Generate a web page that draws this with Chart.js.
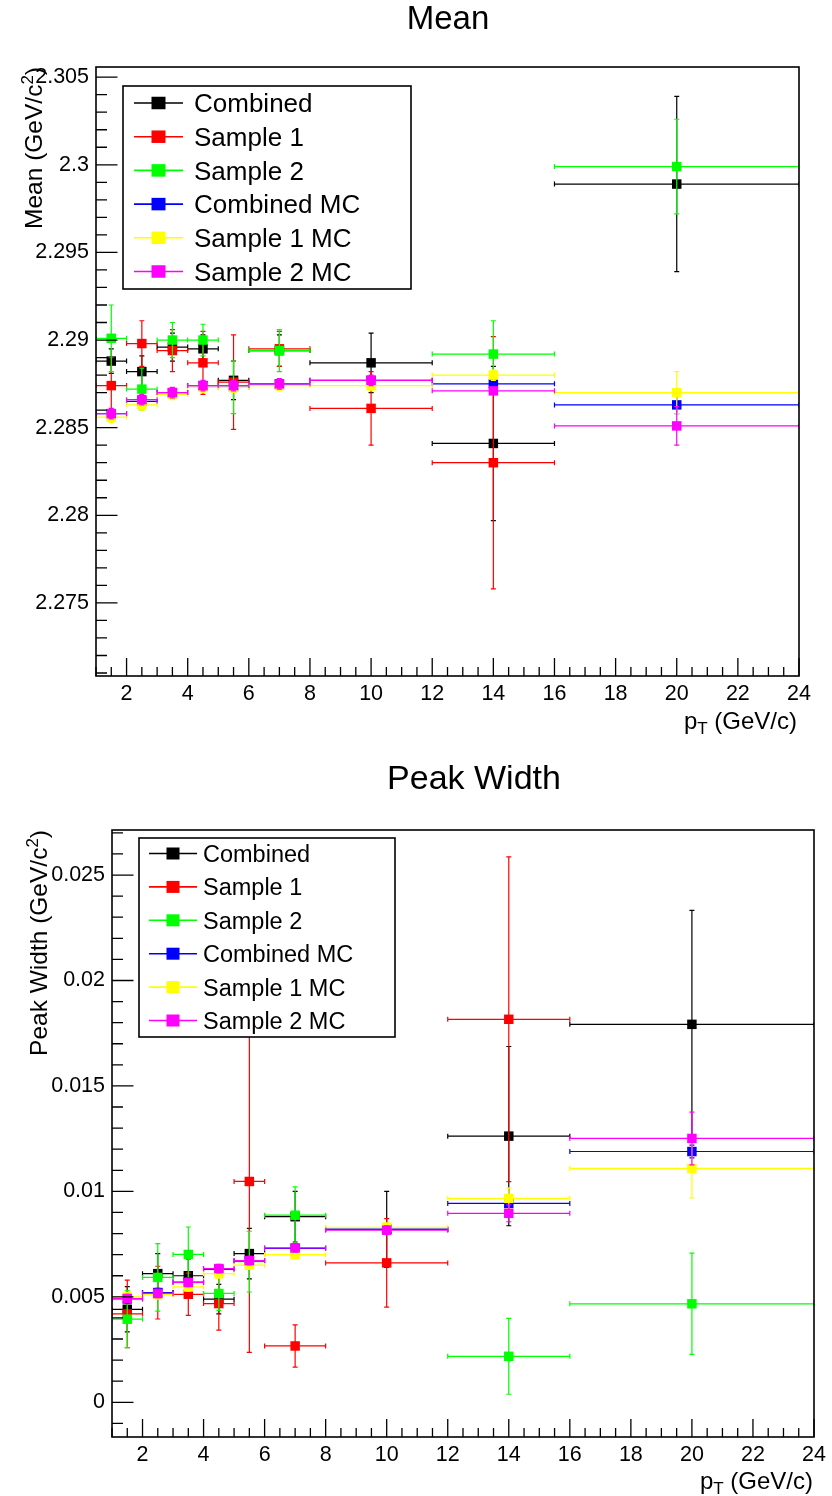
<!DOCTYPE html>
<html><head><meta charset="utf-8">
<script src="https://cdn.jsdelivr.net/npm/chart.js@4.4.0/dist/chart.umd.min.js"></script>
<style>
html,body{margin:0;padding:0;background:#fff;}
#wrap{position:relative;width:832px;height:1496px;background:#fff;}
.pane{position:absolute;left:0;width:832px;height:748px;}
</style></head><body>
<div id="wrap">
<div class="pane" style="top:0"><canvas id="c1" width="832" height="748"></canvas></div>
<div class="pane" style="top:748px"><canvas id="c2" width="832" height="748"></canvas></div>
</div>
<script>
// ---------- data ----------
const binCenters = [1.5, 2.5, 3.5, 4.5, 5.5, 7, 10, 14, 20];
const binLow     = [1, 2, 3, 4, 5, 6, 8, 12, 16];
const binHigh    = [2, 3, 4, 5, 6, 8, 12, 16, 24];
const seriesNames  = ['Combined', 'Sample 1', 'Sample 2', 'Combined MC', 'Sample 1 MC', 'Sample 2 MC'];
const seriesColors = ['#000000', '#ff0000', '#00ff00', '#0000ff', '#ffff00', '#ff00ff'];
const xTicks = [2, 4, 6, 8, 10, 12, 14, 16, 18, 20, 22, 24];
const meanYTicks  = [2.275, 2.28, 2.285, 2.29, 2.295, 2.3, 2.305];
const widthYTicks = [0, 0.005, 0.01, 0.015, 0.02, 0.025];

// Mean (GeV/c^2)
const meanCombined      = [2.2888, 2.2882, 2.2896, 2.2895, 2.2877, 2.2894, 2.2887, 2.2841, 2.2989];
const meanCombinedErr   = [0.0007, 0.0009, 0.0008, 0.0008, 0.0011, 0.0009, 0.0017, 0.0044, 0.0050];
const meanSample1       = [2.2874, 2.2898, 2.2894, 2.2887, 2.2876, 2.2895, 2.2861, 2.2830, null];
const meanSample1Err    = [0.0016, 0.0013, 0.0012, 0.0018, 0.0027, 0.0010, 0.0021, 0.0072, null];
const meanSample2       = [2.2901, 2.2872, 2.2900, 2.2900, 2.2873, 2.2894, null, 2.2892, 2.2999];
const meanSample2Err    = [0.0019, 0.0012, 0.0010, 0.0009, 0.0015, 0.0012, null, 0.0019, 0.0027];
const meanCombinedMC    = [2.2858, 2.2865, 2.2870, 2.2874, 2.2874, 2.2875, 2.2877, 2.2875, 2.2863];
const meanCombinedMCErr = [0.0002, 0.0002, 0.0002, 0.0002, 0.0002, 0.0002, 0.0002, 0.0002, 0.0005];
const meanSample1MC     = [2.2856, 2.2863, 2.2869, 2.2873, 2.2873, 2.2874, 2.2874, 2.2880, 2.2870];
const meanSample1MCErr  = [0.0003, 0.0003, 0.0003, 0.0003, 0.0003, 0.0003, 0.0003, 0.0003, 0.0012];
const meanSample2MC     = [2.2858, 2.2866, 2.2870, 2.2874, 2.2874, 2.2875, 2.2877, 2.2871, 2.2851];
const meanSample2MCErr  = [0.0003, 0.0003, 0.0003, 0.0003, 0.0003, 0.0003, 0.0003, 0.0002, 0.0011];

// Peak width (GeV/c^2)
const widthCombined      = [0.00441, 0.0061, 0.0060, 0.00489, 0.00705, 0.0088, 0.0082, 0.01262, 0.01792];
const widthCombinedErr   = [0.00107, 0.00095, 0.0008, 0.0007, 0.0012, 0.0012, 0.0018, 0.00425, 0.0054];
const widthSample1       = [0.00419, 0.0052, 0.00512, 0.00468, 0.01047, 0.00267, 0.00661, 0.01816, null];
const widthSample1Err    = [0.0016, 0.00125, 0.0010, 0.00126, 0.0081, 0.0010, 0.0021, 0.0077, null];
const widthSample2       = [0.00394, 0.00592, 0.00701, 0.00516, 0.00667, 0.00887, null, 0.00218, 0.00467];
const widthSample2Err    = [0.00135, 0.0016, 0.0013, 0.0008, 0.00144, 0.00134, null, 0.0018, 0.0024];
const widthCombinedMC    = [0.0049, 0.0052, 0.0057, 0.0063, 0.0067, 0.0073, 0.0082, 0.00943, 0.01189];
const widthCombinedMCErr = [0.0002, 0.0002, 0.0002, 0.0002, 0.0002, 0.0002, 0.0002, 0.0003, 0.0003];
const widthSample1MC     = [0.0050, 0.0051, 0.00547, 0.0061, 0.0065, 0.0070, 0.0083, 0.00967, 0.01109];
const widthSample1MCErr  = [0.0002, 0.0002, 0.0002, 0.0002, 0.0002, 0.0002, 0.0002, 0.0005, 0.0014];
const widthSample2MC     = [0.00492, 0.00516, 0.00568, 0.00634, 0.00672, 0.00732, 0.00816, 0.00896, 0.01251];
const widthSample2MCErr  = [0.0002, 0.0002, 0.0002, 0.0002, 0.0002, 0.0002, 0.0002, 0.0004, 0.00125];

// ---------- rendering ----------
const FONT = '"Liberation Sans", Arial, Helvetica, sans-serif';

function buildDatasets(vals, errs) {
  return seriesNames.map((name, s) => ({
    label: name,
    data: binCenters.map((x, i) => ({x: x, y: vals[s][i], xl: binLow[i], xh: binHigh[i], ey: errs[s][i]}))
                    .filter(d => d.y !== null),
    showLine: false,
    pointStyle: 'rect',
    pointRadius: 6.7,
    pointHoverRadius: 6.7,
    backgroundColor: seriesColors[s],
    borderColor: seriesColors[s],
    borderWidth: 0,
    order: seriesNames.length - s
  }));
}

const errorBars = {
  id: 'errorBars',
  beforeDatasetDraw(chart, args) {
    const ds = chart.data.datasets[args.index];
    const xs = chart.scales.x, ys = chart.scales.y, ctx = chart.ctx, a = chart.chartArea;
    const cap = 2.5;
    ctx.save();
    ctx.beginPath(); ctx.rect(a.left, a.top, a.right - a.left, a.bottom - a.top); ctx.clip();
    ctx.strokeStyle = ds.borderColor; ctx.lineWidth = 1.2;
    ctx.beginPath();
    ds.data.forEach(d => {
      const px = xs.getPixelForValue(d.x), py = ys.getPixelForValue(d.y);
      const x1 = xs.getPixelForValue(d.xl), x2 = xs.getPixelForValue(d.xh);
      const y1 = ys.getPixelForValue(d.y + d.ey), y2 = ys.getPixelForValue(d.y - d.ey);
      ctx.moveTo(x1, py); ctx.lineTo(x2, py);
      ctx.moveTo(x1, py - cap); ctx.lineTo(x1, py + cap);
      ctx.moveTo(x2, py - cap); ctx.lineTo(x2, py + cap);
      ctx.moveTo(px, y1); ctx.lineTo(px, y2);
      ctx.moveTo(px - cap, y1); ctx.lineTo(px + cap, y1);
      ctx.moveTo(px - cap, y2); ctx.lineTo(px + cap, y2);
    });
    ctx.stroke();
    ctx.restore();
  }
};

function drawRich(ctx, parts, x, y, align, rot) {
  ctx.save();
  ctx.translate(x, y);
  if (rot) ctx.rotate(rot);
  let w = 0;
  parts.forEach(p => { ctx.font = p.size + 'px ' + FONT; p.w = ctx.measureText(p.t).width; w += p.w; });
  let cx = align === 'right' ? -w : (align === 'center' ? -w / 2 : 0);
  ctx.textAlign = 'left'; ctx.textBaseline = 'alphabetic'; ctx.fillStyle = '#000';
  parts.forEach(p => { ctx.font = p.size + 'px ' + FONT; ctx.fillText(p.t, cx, p.dy || 0); cx += p.w; });
  ctx.restore();
}

function rootFrame(cfg) {
  return {
    id: 'rootFrame',
    afterDatasetsDraw(chart) {
      const ctx = chart.ctx, a = chart.chartArea, xs = chart.scales.x, ys = chart.scales.y;
      ctx.save();
      ctx.strokeStyle = '#000';
      ctx.lineWidth = 1.3;
      ctx.beginPath();
      const ry = Math.round(cfg.yMajor / cfg.yMinor);
      for (let k = Math.ceil(ys.min / cfg.yMinor - 1e-6); k * cfg.yMinor <= ys.max + 1e-9; k++) {
        const py = ys.getPixelForValue(k * cfg.yMinor);
        const len = (k % ry === 0) ? 21.5 : 11;
        ctx.moveTo(a.left, py); ctx.lineTo(a.left + len, py);
      }
      const rx = Math.round(cfg.xMajor / cfg.xMinor);
      for (let k = Math.ceil(xs.min / cfg.xMinor - 1e-6); k * cfg.xMinor <= xs.max + 1e-9; k++) {
        const px = xs.getPixelForValue(k * cfg.xMinor);
        const len = (k % rx === 0) ? 18 : 9;
        ctx.moveTo(px, a.bottom); ctx.lineTo(px, a.bottom - len);
      }
      ctx.stroke();
      ctx.lineWidth = 1.6;
      ctx.strokeRect(a.left, a.top, a.right - a.left, a.bottom - a.top);
      ctx.restore();
    },
    afterDraw(chart) {
      const ctx = chart.ctx;
      const L = cfg.legend;
      ctx.save();
      ctx.fillStyle = '#fff';
      ctx.fillRect(L.x1, L.y1, L.x2 - L.x1, L.y2 - L.y1);
      ctx.lineWidth = 1.6; ctx.strokeStyle = '#000';
      ctx.strokeRect(L.x1, L.y1, L.x2 - L.x1, L.y2 - L.y1);
      chart.data.datasets.forEach((ds, i) => {
        const y = L.row0 + i * L.dy;
        ctx.strokeStyle = ds.borderColor; ctx.lineWidth = 1.6;
        ctx.beginPath(); ctx.moveTo(L.lx1, y); ctx.lineTo(L.lx2, y); ctx.stroke();
        ctx.fillStyle = ds.backgroundColor;
        ctx.fillRect(L.mx - L.mw / 2, y - L.mh / 2, L.mw, L.mh);
        ctx.fillStyle = '#000';
        ctx.font = L.font + 'px ' + FONT;
        ctx.textAlign = 'left'; ctx.textBaseline = 'alphabetic';
        ctx.fillText(ds.label, L.tx, y + 0.36 * L.font);
      });
      ctx.restore();
      drawRich(ctx, [{t: cfg.title, size: cfg.titleSize}], cfg.titleX, cfg.titleY, 'center', 0);
      drawRich(ctx, cfg.yTitle, cfg.yTitleX, cfg.yTitleY, 'right', -Math.PI / 2);
      drawRich(ctx, cfg.xTitle, cfg.xTitleX, cfg.xTitleY, 'right', 0);
    }
  };
}

function makeChart(id, cfg) {
  return new Chart(document.getElementById(id), {
    type: 'scatter',
    data: {datasets: buildDatasets(cfg.vals, cfg.errs)},
    options: {
      responsive: false,
      animation: false,
      events: [],
      layout: {padding: {left: 0, top: cfg.padTop, right: cfg.padRight, bottom: 0}},
      plugins: {legend: {display: false}, tooltip: {enabled: false}, title: {display: false}},
      scales: {
        x: {
          type: 'linear', position: 'bottom', min: 1, max: 24,
          afterFit(s) { s.height = cfg.xAxisH; },
          afterBuildTicks(s) { s.ticks = xTicks.map(v => ({value: v})); },
          grid: {display: false, drawTicks: false},
          border: {display: false},
          ticks: {font: {family: FONT, size: 21.5}, color: '#000', padding: 5, maxRotation: 0, autoSkip: false,
                  callback: v => String(v)}
        },
        y: {
          type: 'linear', position: 'left', min: cfg.ymin, max: cfg.ymax,
          afterFit(s) { s.width = cfg.yAxisW; },
          afterBuildTicks(s) { s.ticks = cfg.yTicks.map(v => ({value: v})); },
          grid: {display: false, drawTicks: false},
          border: {display: false},
          ticks: {font: {family: FONT, size: 21.5}, color: '#000', padding: 7, autoSkip: false,
                  callback: v => String(Number(Number(v).toFixed(4)))}
        }
      }
    },
    plugins: [errorBars, rootFrame(cfg)]
  });
}

const pT = [{t: 'p', size: 24}, {t: 'T', size: 17, dy: 5}, {t: ' (GeV/c)', size: 24}];

makeChart('c1', {
  vals: [meanCombined, meanSample1, meanSample2, meanCombinedMC, meanSample1MC, meanSample2MC],
  errs: [meanCombinedErr, meanSample1Err, meanSample2Err, meanCombinedMCErr, meanSample1MCErr, meanSample2MCErr],
  ymin: 2.27083, ymax: 2.30558, yTicks: meanYTicks,
  padTop: 67, padRight: 33, yAxisW: 96, xAxisH: 72,
  yMajor: 0.005, yMinor: 0.001, xMajor: 2, xMinor: 0.5,
  title: 'Mean', titleSize: 33, titleX: 448, titleY: 29,
  yTitle: [{t: 'Mean (GeV/c', size: 24.5}, {t: '2', size: 17, dy: -9}, {t: ')', size: 24.5}],
  yTitleX: 42, yTitleY: 67,
  xTitle: pT, xTitleX: 797, xTitleY: 729,
  legend: {x1: 123, y1: 86, x2: 411, y2: 289, row0: 103, dy: 33.7, lx1: 134, lx2: 183, mx: 158.5, mw: 14, mh: 12.5, tx: 194, font: 26}
});

makeChart('c2', {
  vals: [widthCombined, widthSample1, widthSample2, widthCombinedMC, widthSample1MC, widthSample2MC],
  errs: [widthCombinedErr, widthSample1Err, widthSample2Err, widthCombinedMCErr, widthSample1MCErr, widthSample2MCErr],
  ymin: -0.001646, ymax: 0.027135, yTicks: widthYTicks,
  padTop: 82, padRight: 18, yAxisW: 112, xAxisH: 59,
  yMajor: 0.005, yMinor: 0.001, xMajor: 2, xMinor: 0.5,
  title: 'Peak Width', titleSize: 34, titleX: 474, titleY: 41,
  yTitle: [{t: 'Peak Width (GeV/c', size: 24.5}, {t: '2', size: 17, dy: -9}, {t: ')', size: 24.5}],
  yTitleX: 47, yTitleY: 82,
  xTitle: pT, xTitleX: 813, xTitleY: 741,
  legend: {x1: 139, y1: 90, x2: 395, y2: 289, row0: 105.5, dy: 33.4, lx1: 149, lx2: 197, mx: 173, mw: 13, mh: 12, tx: 203, font: 23.5}
});
</script>
</body></html>
